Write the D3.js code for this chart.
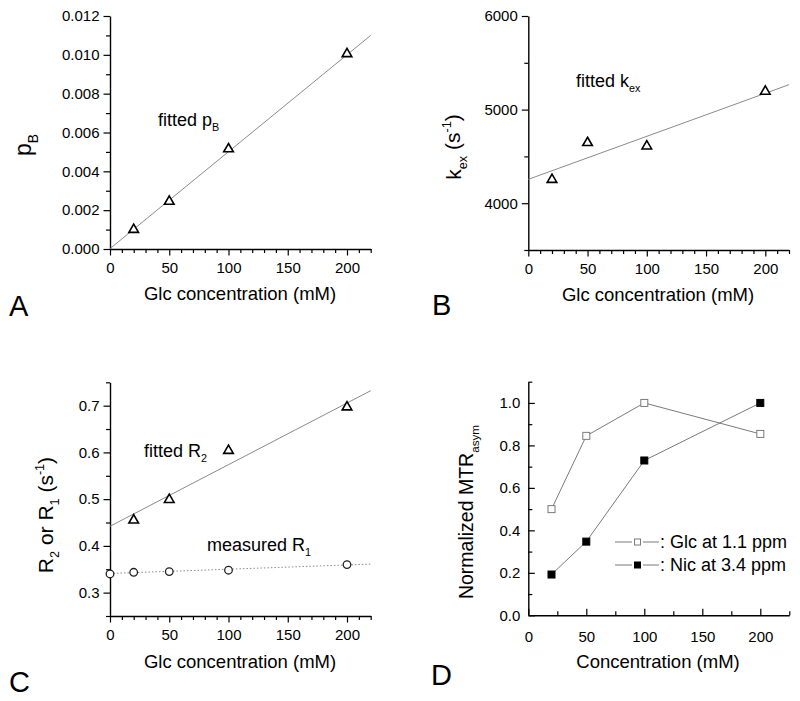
<!DOCTYPE html>
<html>
<head>
<meta charset="utf-8">
<script src="https://cdn.jsdelivr.net/npm/d3@7"></script>
<style>
  body { margin: 0; background: #fff; }
  svg { display: block; font-family: "Liberation Sans", Arial, sans-serif; }
  .domain { stroke: #000; stroke-width: 1.4px; }
  .tick line { stroke: #000; stroke-width: 1.2px; }
  .tick text { font-size: 15px; fill: #000; }
</style>
</head>
<body>
<svg id="fig" width="800" height="701"></svg>
<script>
// ---- data ----
var glcConc = [20, 50, 100, 200];
var pB = [0.00105, 0.0025, 0.0052, 0.0101];
var pBFit = [[0, 0.00002], [220, 0.0110]];

var kex = [4263, 4656, 4620, 5205];
var kexFit = [[0, 4255], [220, 5266]];

var r2 = [0.457, 0.501, 0.606, 0.699];
var r2Fit = [[0, 0.442], [220, 0.732]];
var r1Conc = [0, 20, 50, 100, 200];
var r1 = [0.340, 0.3435, 0.345, 0.348, 0.360];
var r1Fit = [[0, 0.341], [220, 0.361]];

var mtrConc = [20, 50, 100, 200];
var glcMTR = [0.50, 0.845, 1.0, 0.854];
var nicMTR = [0.192, 0.347, 0.729, 1.0];

var legendLabels = [": Glc at 1.1 ppm", ": Nic at 3.4 ppm"];

var svg = d3.select("#fig");

function panel(o) {
  var x = d3.scaleLinear().domain(o.xDomain).range([o.left, o.right]);
  var y = d3.scaleLinear().domain(o.yDomain).range([o.bottom, o.top]);
  var g = svg.append("g");
  var dir = o.inward ? -1 : 1;

  // minor ticks
  var mx = g.append("g")
      .attr("transform", "translate(0," + o.bottom + ")")
      .call(d3.axisBottom(x).tickValues(o.xMinor).tickFormat(function() { return ""; }).tickSizeInner(4 * dir).tickSizeOuter(0));
  mx.select(".domain").remove();
  var my = g.append("g")
      .attr("transform", "translate(" + o.left + ",0)")
      .call(d3.axisLeft(y).tickValues(o.yMinor).tickFormat(function() { return ""; }).tickSizeInner(4 * dir).tickSizeOuter(0));
  my.select(".domain").remove();

  // major ticks
  g.append("g")
      .attr("transform", "translate(0," + o.bottom + ")")
      .call(d3.axisBottom(x).tickValues(o.xMajor).tickSizeInner(6.5 * dir).tickSizeOuter(0).tickPadding(o.inward ? 16 : 7))
      .selectAll(".tick text").attr("dy", "0.71em");
  g.append("g")
      .attr("transform", "translate(" + o.left + ",0)")
      .call(d3.axisLeft(y).tickValues(o.yMajor).tickFormat(d3.format(o.yFormat)).tickSizeInner(6.5 * dir).tickSizeOuter(0).tickPadding(o.inward ? 8 : 4));

  return {x: x, y: y, g: g};
}

function triangles(p, xs, ys) {
  p.g.selectAll(null).data(xs).enter().append("path")
      .attr("d", d3.symbol().type(d3.symbolTriangle).size(40))
      .attr("transform", function(d, i) { return "translate(" + p.x(d) + "," + (p.y(ys[i]) + 1) + ")"; })
      .attr("fill", "#fff").attr("stroke", "#000").attr("stroke-width", 1.6);
}

function fitLine(p, pts, dash) {
  p.g.append("path")
      .datum(pts)
      .attr("d", d3.line().x(function(d) { return p.x(d[0]); }).y(function(d) { return p.y(d[1]); }))
      .attr("fill", "none").attr("stroke", "#8a8a8a").attr("stroke-width", 1)
      .attr("stroke-dasharray", dash || null);
}

function label(x, y, parts, size, rotate) {
  var t = svg.append("text")
      .attr("transform", "translate(" + x + "," + y + ")" + (rotate ? " rotate(-90)" : ""))
      .attr("font-size", size).attr("fill", "#000");
  if (rotate) t.attr("text-anchor", "middle");
  parts.forEach(function(p) {
    var s = t.append("tspan").text(p[0]);
    if (p[1] === "sub") s.attr("font-size", size * 0.6).attr("dy", size * 0.3);
    if (p[1] === "sup") s.attr("font-size", size * 0.6).attr("dy", -size * 0.42);
    if (p[1] === "back") s.attr("dy", p[2]);
  });
  return t;
}

// ---- Panel A ----
var pa = panel({
  left: 110, right: 370.7, top: 16, bottom: 249,
  xDomain: [0, 220], yDomain: [0, 0.012],
  xMajor: [0, 50, 100, 150, 200], xMinor: d3.range(10, 221, 10).filter(function(v) { return v % 50; }),
  yMajor: [0, 0.002, 0.004, 0.006, 0.008, 0.010, 0.012], yMinor: [0.001, 0.003, 0.005, 0.007, 0.009, 0.011],
  yFormat: ".3f"
});
fitLine(pa, pBFit);
triangles(pa, glcConc, pB);
label(158, 126, [["fitted p"], ["B", "sub"]], 18);
label(31, 145, [["p"], ["B", "sub"]], 23, true);
label(240, 300, [["Glc concentration (mM)"]], 18.5).attr("text-anchor", "middle");
label(9, 316, [["A"]], 29);

// ---- Panel B ----
var pbn = panel({
  left: 528.3, right: 789, top: 16, bottom: 250,
  xDomain: [0, 220], yDomain: [3500, 6000],
  xMajor: [0, 50, 100, 150, 200], xMinor: d3.range(10, 221, 10).filter(function(v) { return v % 50; }),
  yMajor: [4000, 5000, 6000], yMinor: [3500, 4500, 5500],
  yFormat: "d"
});
fitLine(pbn, kexFit);
triangles(pbn, glcConc, kex);
label(576, 87, [["fitted k"], ["ex", "sub"]], 18);
label(460.5, 147, [["k"], ["ex", "sub"], [" (s", "back", -6.6], ["-1", "sup"], [")", "back", 8.8]], 21, true);
label(658, 301, [["Glc concentration (mM)"]], 18.5).attr("text-anchor", "middle");
label(432, 315, [["B"]], 29);

// ---- Panel C ----
var pc = panel({
  left: 110, right: 370.7, top: 382.3, bottom: 616,
  xDomain: [0, 220], yDomain: [0.25, 0.75],
  xMajor: [0, 50, 100, 150, 200], xMinor: d3.range(10, 221, 10).filter(function(v) { return v % 50; }),
  yMajor: [0.3, 0.4, 0.5, 0.6, 0.7], yMinor: [0.25, 0.35, 0.45, 0.55, 0.65, 0.75],
  yFormat: ".1f"
});
fitLine(pc, r2Fit);
fitLine(pc, r1Fit, "1.5,2");
triangles(pc, glcConc, r2);
pc.g.selectAll(null).data(r1Conc).enter().append("circle")
    .attr("cx", function(d) { return pc.x(d); })
    .attr("cy", function(d, i) { return pc.y(r1[i]); })
    .attr("r", 3.8)
    .attr("fill", "#fff").attr("stroke", "#222").attr("stroke-width", 1.3);
label(144, 457, [["fitted R"], ["2", "sub"]], 18);
label(207, 551, [["measured R"], ["1", "sub"]], 18);
label(53, 515, [["R"], ["2", "sub"], [" or R", "back", -6.3], ["1", "sub"], [" (s", "back", -6.3], ["-1", "sup"], [")", "back", 8.8]], 21, true);
label(240, 668, [["Glc concentration (mM)"]], 18.5).attr("text-anchor", "middle");
label(9, 692, [["C"]], 29);

// ---- Panel D ----
var pd = panel({
  left: 528.3, right: 789.3, top: 381.7, bottom: 615.3,
  xDomain: [0, 225], yDomain: [0, 1.1],
  xMajor: [0, 50, 100, 150, 200], xMinor: [25, 75, 125, 175, 225],
  yMajor: [0, 0.2, 0.4, 0.6, 0.8, 1.0], yMinor: [0.1, 0.3, 0.5, 0.7, 0.9, 1.1],
  yFormat: ".1f", inward: true
});
var series = [
  {vals: glcMTR, fill: "#fff", stroke: "#7a7a7a"},
  {vals: nicMTR, fill: "#000", stroke: "#000"}
];
series.forEach(function(s) {
  pd.g.append("path")
      .datum(mtrConc)
      .attr("d", d3.line().x(function(d) { return pd.x(d); }).y(function(d, i) { return pd.y(s.vals[i]); }))
      .attr("fill", "none").attr("stroke", "#7a7a7a").attr("stroke-width", 1);
  pd.g.selectAll(null).data(mtrConc).enter().append("rect")
      .attr("x", function(d) { return pd.x(d) - 3.5; })
      .attr("y", function(d, i) { return pd.y(s.vals[i]) - 3.5; })
      .attr("width", 7).attr("height", 7)
      .attr("fill", s.fill).attr("stroke", s.stroke).attr("stroke-width", 1);
});
var leg = svg.append("g").selectAll("g").data(series).enter().append("g")
    .attr("transform", function(d, i) { return "translate(615," + (542 + i * 23) + ")"; });
leg.append("line").attr("x1", 0).attr("x2", 17).attr("stroke", "#7a7a7a");
leg.append("line").attr("x1", 28).attr("x2", 44).attr("stroke", "#7a7a7a");
leg.append("rect").attr("x", 19.5).attr("y", -3).attr("width", 6).attr("height", 6)
    .attr("fill", function(d) { return d.fill; }).attr("stroke", function(d) { return d.stroke; });
leg.append("text").attr("x", 45).attr("dy", "0.35em").attr("font-size", 18)
    .text(function(d, i) { return legendLabels[i]; });
label(473, 512, [["Normalized MTR"], ["asym", "sub"]], 19.5, true);
label(658, 668, [["Concentration (mM)"]], 18.5).attr("text-anchor", "middle");
label(431, 685, [["D"]], 29);
</script>
</body>
</html>
